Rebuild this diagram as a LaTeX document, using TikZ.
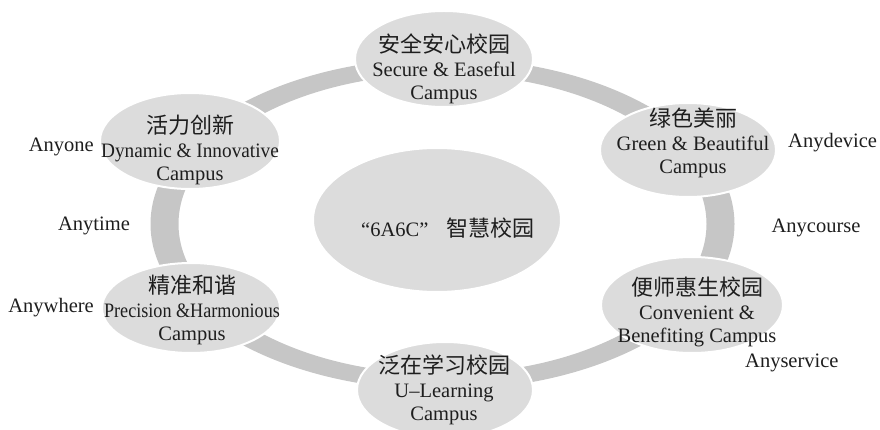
\documentclass[tikz,border=0pt]{standalone}
\usepackage{fontspec}
\setmainfont{Liberation Serif}
\newfontfamily\cjk{Noto Sans CJK SC}
\usetikzlibrary{shapes.geometric}
\definecolor{ringgray}{HTML}{C6C6C6}
\definecolor{ovalgray}{HTML}{DCDCDC}
\definecolor{txtcol}{HTML}{1E1E1E}
\tikzset{
  oval/.style={ellipse, fill=ovalgray, draw=white, line width=2pt, inner sep=0pt},
  lbl/.style={align=center, text=txtcol, font=\fontsize{20.5}{23.5}\selectfont, inner sep=0pt},
  anyl/.style={text=txtcol, font=\fontsize{20.5}{23}\selectfont, inner sep=0pt},
}
\newcommand{\zh}[1]{{\cjk\fontsize{22}{23.5}\selectfont #1}}
\begin{document}
\begin{tikzpicture}[x=1pt,y=-1pt]
\useasboundingbox (0,0) rectangle (880,430);
% ring
\fill[ringgray, even odd rule]
  (442.5,224) ellipse [x radius=292, y radius=166]
  (442.5,224) ellipse [x radius=264, y radius=150];
% ovals
\node[oval, minimum width=178pt, minimum height=96pt] (top) at (444,59) {};
\node[oval, minimum width=180pt, minimum height=96pt] (ul) at (190,141) {};
\node[oval, minimum width=176pt, minimum height=94pt] (ur) at (688,150) {};
\node[oval, minimum width=178pt, minimum height=90pt] (ll) at (191,308) {};
\node[oval, minimum width=182pt, minimum height=96pt] (lr) at (692,305) {};
\node[oval, minimum width=176pt, minimum height=96pt] (bot) at (445,390) {};
\node[oval, minimum width=248pt, minimum height=144pt] (mid) at (437,220) {};
% texts
\node[lbl] (ttop) at (444,69) {\zh{安全安心校园}\\Secure \& Easeful\\Campus};
\node[lbl] (tul) at (190,150) {\zh{活力创新}\\\scalebox{0.94}[1]{Dynamic \& Innovative}\\Campus};
\node[lbl] (tur) at (693,143) {\zh{绿色美丽}\\Green \& Beautiful\\Campus};
\node[lbl] (tll) at (192,310) {\zh{精准和谐}\\\scalebox{0.885}[1]{Precision \&Harmonious}\\Campus};
\node[lbl] (tlr) at (697,312) {\zh{便师惠生校园}\\Convenient \&\\Benefiting Campus};
\node[lbl] (tbot) at (444,390) {\zh{泛在学习校园}\\U–Learning\\Campus};
\node[lbl] (tmid) at (448,228) {“6A6C”\hspace{0.9em}\zh{智慧校园}};
% Any labels
\node[anyl, anchor=east] (anyone) at (94,147) {Anyone};
\node[anyl, anchor=west] (anydevice) at (788,143) {Anydevice};
\node[anyl] (anytime) at (94,226) {Anytime};
\node[anyl] (anycourse) at (816,228) {Anycourse};
\node[anyl, anchor=east] (anywhere) at (94,308) {Anywhere};
\node[anyl, anchor=west] (anyservice) at (745,363) {Anyservice};
\end{tikzpicture}
\end{document}
